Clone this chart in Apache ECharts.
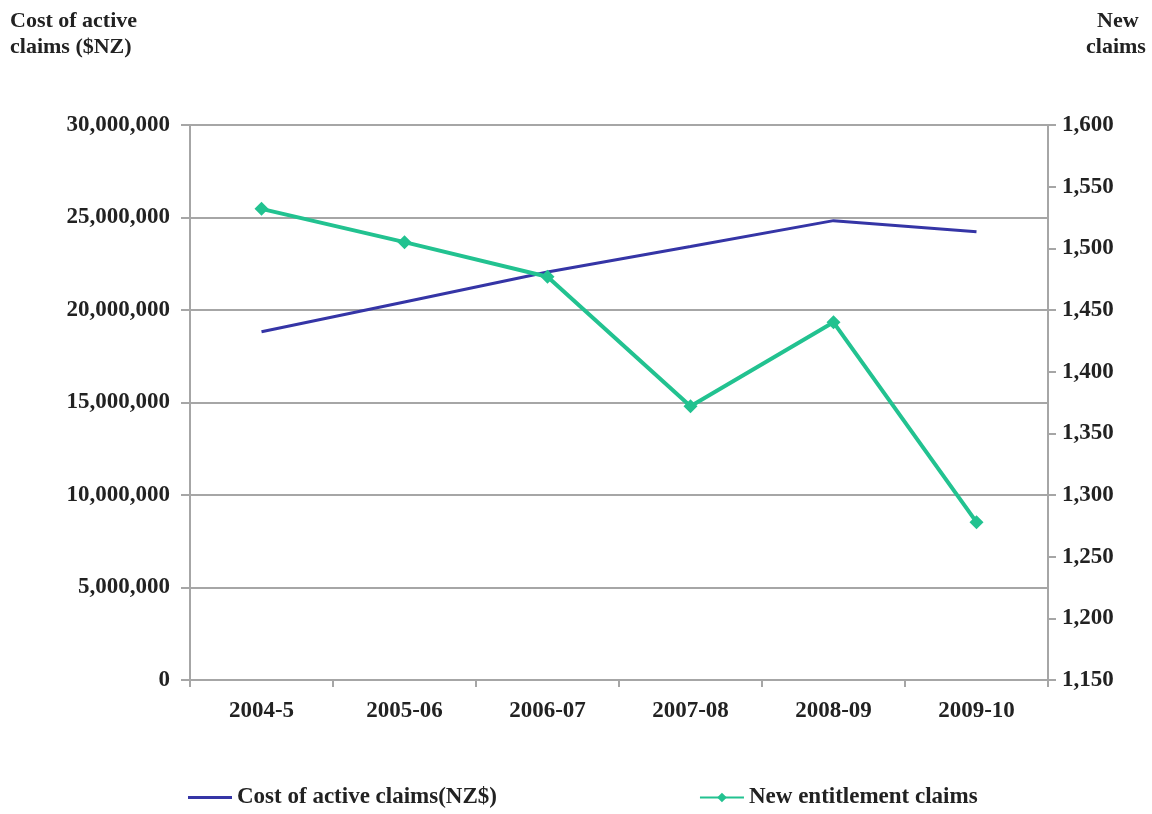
<!DOCTYPE html>
<html>
<head>
<meta charset="utf-8">
<script src="https://cdn.jsdelivr.net/npm/echarts@6/dist/echarts.min.js"></script>
<style>
html, body { margin: 0; padding: 0; background: #fff; }
#chart { width: 1152px; height: 814px; }
</style>
</head>
<body>
<div id="chart"></div>
<script>
var years = ['2004-5', '2005-06', '2006-07', '2007-08', '2008-09', '2009-10'];
var costActive = [18820000, 20430000, 22050000, 23430000, 24830000, 24230000];
var newClaims = [1532, 1505, 1477, 1372, 1440, 1278];

var dom = document.getElementById('chart');
var myChart = echarts.init(dom, null, { renderer: 'canvas' });

var serif = '"Liberation Serif", "Times New Roman", serif';
var gridGray = '#a6a6a6';

var option = {
  backgroundColor: '#fff',
  textStyle: { fontFamily: serif },
  grid: { left: 190, right: 104, top: 125, bottom: 134, containLabel: false },
  graphic: [
    {
      type: 'text', left: 10, top: 8,
      style: { text: 'Cost of active\nclaims ($NZ)', font: 'bold 22px ' + serif, fill: '#222', lineHeight: 26 }
    },
    {
      type: 'text', left: 1086, top: 8,
      style: { text: '  New\nclaims', font: 'bold 22px ' + serif, fill: '#222', lineHeight: 26 }
    }
  ],
  legend: {
    bottom: 0,
    left: 183,
    itemGap: 202,
    itemWidth: 44,
    itemHeight: 12,
    textStyle: { fontFamily: serif, fontWeight: 'bold', fontSize: 23, color: '#222' },
    data: [
      { name: 'Cost of active claims(NZ$)', icon: 'path://M0,4 L44,4 L44,7 L0,7 Z' },
      { name: 'New entitlement claims' }
    ]
  },
  xAxis: {
    type: 'category',
    data: years,
    boundaryGap: true,
    axisLine: { lineStyle: { color: gridGray, width: 2 } },
    axisTick: { show: true, length: 7, lineStyle: { color: gridGray, width: 2 } },
    axisLabel: { margin: 20, color: '#222', fontFamily: serif, fontWeight: 'bold', fontSize: 23 }
  },
  yAxis: [
    {
      type: 'value',
      min: 0, max: 30000000, interval: 5000000,
      axisLine: { show: true, lineStyle: { color: gridGray, width: 2 } },
      axisTick: { show: true, length: 9, lineStyle: { color: gridGray, width: 2 } },
      splitLine: { lineStyle: { color: gridGray, width: 2 } },
      axisLabel: {
        margin: 20, color: '#222', fontFamily: serif, fontWeight: 'bold', fontSize: 23,
        formatter: function (v) { return v.toLocaleString('en-US'); }
      }
    },
    {
      type: 'value',
      min: 1150, max: 1600, interval: 50,
      axisLine: { show: true, lineStyle: { color: gridGray, width: 2 } },
      axisTick: { show: true, length: 8, lineStyle: { color: gridGray, width: 2 } },
      splitLine: { show: false },
      axisLabel: {
        margin: 14, color: '#222', fontFamily: serif, fontWeight: 'bold', fontSize: 23,
        formatter: function (v) { return v.toLocaleString('en-US'); }
      }
    }
  ],
  series: [
    {
      name: 'Cost of active claims(NZ$)',
      type: 'line',
      yAxisIndex: 0,
      data: costActive,
      symbol: 'none',
      color: '#3535a6',
      lineStyle: { color: '#3535a6', width: 3 }
    },
    {
      name: 'New entitlement claims',
      type: 'line',
      yAxisIndex: 1,
      data: newClaims,
      symbol: 'diamond',
      symbolSize: 14,
      color: '#22c290',
      itemStyle: { color: '#22c290' },
      lineStyle: { color: '#22c290', width: 4 }
    }
  ]
};

myChart.setOption(option);
window.addEventListener('resize', myChart.resize);
</script>
</body>
</html>
